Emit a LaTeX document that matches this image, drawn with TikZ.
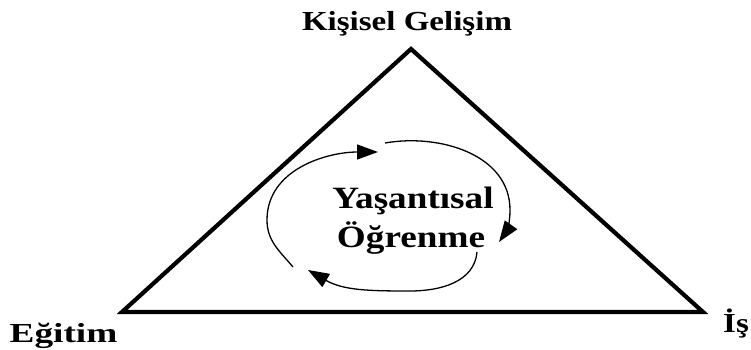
\documentclass[tikz,border=0pt]{standalone}
\usepackage{fontspec}
\setmainfont{Liberation Serif}[FakeStretch=1.2]
\usetikzlibrary{arrows.meta}
\begin{document}
\begin{tikzpicture}[x=1pt,y=1pt,
  lbl/.style={font=\bfseries\fontsize{27.5}{30}\selectfont, inner sep=0pt, anchor=base},
  mid/.style={font=\bfseries\fontsize{31}{36}\selectfont, inner sep=0pt, anchor=base},
  cyc/.style={line width=1.3pt, -{Triangle[length=21pt,width=15pt]}},
  tri/.style={line width=4.2pt, line join=miter}]
\useasboundingbox (0,0) rectangle (751,349);
% triangle
\coordinate (top) at (411,300);
\coordinate (bl) at (122,37);
\coordinate (br) at (703,37);
\draw[tri] (top) -- (bl) -- (br) -- cycle;
% labels
\node[lbl] (kg) at (407,319) {Kişisel Gelişim};
\node[lbl] (eg) at (63.5,6.5) {\scalebox{1.13}[1]{Eğitim}};
\node[lbl] (is) at (736,17) {İş};
\node[mid] (ya) at (413,141) {Yaşantısal};
\node[mid] (og) at (411,102) {Öğrenme};
% cycle arrows
\coordinate (a1s) at (293,82);
\coordinate (a1m) at (267,129);
\coordinate (a1e) at (378,197);
\coordinate (a2s) at (385,206);
\coordinate (a2m) at (510,139);
\coordinate (a2e) at (499,107);
\coordinate (a3s) at (477,97);
\coordinate (a3m) at (410,58);
\coordinate (a3e) at (308,79);
\draw[cyc] (a1s) to[out=130,in=-90] (a1m) to[out=90,in=180] (a1e);
\draw[cyc] (a2s) to[out=10,in=90] (a2m) to[out=-90,in=55] (a2e);
\draw[cyc] (a3s) to[out=-95,in=0] (a3m) to[out=180,in=-30] (a3e);
\end{tikzpicture}
\end{document}
